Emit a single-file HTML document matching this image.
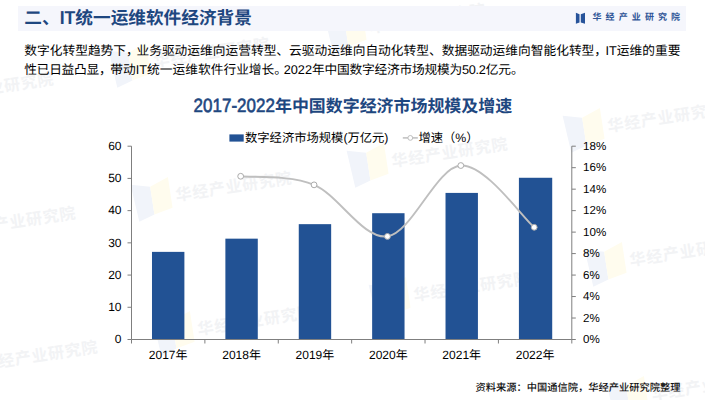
<!DOCTYPE html>
<html lang="zh-CN">
<head>
<meta charset="utf-8">
<title>IT统一运维软件经济背景</title>
<style>

html,body{margin:0;padding:0}
body{width:705px;height:400px;position:relative;overflow:hidden;background:#fff;
 font-family:"Liberation Sans","Noto Sans CJK SC",sans-serif;text-rendering:geometricPrecision;}
.t{position:absolute;white-space:nowrap;line-height:1em;height:1em;color:var(--c);}
.band{position:absolute;left:18px;top:6px;width:668px;height:25px;background:#f5f6fc}
#chart{position:absolute;left:0;top:0}
.wm{position:absolute;white-space:nowrap;line-height:1em;height:1em;transform-origin:0 50%;
 transform:rotate(-8.7deg);font-weight:bold;--c:#f2f3f5;color:var(--c)}

</style>
</head>
<body>
<div class="wm" style="left:-62.0px;top:89.5px;font-size:16px"><svg viewBox="0 0 40 42" style="position:absolute;left:-44px;top:-14px;width:40px;height:42px"><path d="M1 3 L20 8 L20 36 L4 41 Z" fill="#f1f4fa"/><path d="M20 8 L39 1 L39 32 L20 36 Z" fill="#fffcee"/></svg><span style="letter-spacing:0.8px">华经产业研究院</span></div>
<div class="wm" style="left:-40.0px;top:223.5px;font-size:16px"><svg viewBox="0 0 40 42" style="position:absolute;left:-44px;top:-14px;width:40px;height:42px"><path d="M1 3 L20 8 L20 36 L4 41 Z" fill="#f1f4fa"/><path d="M20 8 L39 1 L39 32 L20 36 Z" fill="#fffcee"/></svg><span style="letter-spacing:0.8px">华经产业研究院</span></div>
<div class="wm" style="left:-18.0px;top:357.5px;font-size:16px"><svg viewBox="0 0 40 42" style="position:absolute;left:-44px;top:-14px;width:40px;height:42px"><path d="M1 3 L20 8 L20 36 L4 41 Z" fill="#f1f4fa"/><path d="M20 8 L39 1 L39 32 L20 36 Z" fill="#fffcee"/></svg><span style="letter-spacing:0.8px">华经产业研究院</span></div>
<div class="wm" style="left:154.0px;top:55.0px;font-size:16px"><svg viewBox="0 0 40 42" style="position:absolute;left:-44px;top:-14px;width:40px;height:42px"><path d="M1 3 L20 8 L20 36 L4 41 Z" fill="#f1f4fa"/><path d="M20 8 L39 1 L39 32 L20 36 Z" fill="#fffcee"/></svg><span style="letter-spacing:0.8px">华经产业研究院</span></div>
<div class="wm" style="left:176.0px;top:189.0px;font-size:16px"><svg viewBox="0 0 40 42" style="position:absolute;left:-44px;top:-14px;width:40px;height:42px"><path d="M1 3 L20 8 L20 36 L4 41 Z" fill="#f1f4fa"/><path d="M20 8 L39 1 L39 32 L20 36 Z" fill="#fffcee"/></svg><span style="letter-spacing:0.8px">华经产业研究院</span></div>
<div class="wm" style="left:198.0px;top:323.0px;font-size:16px"><svg viewBox="0 0 40 42" style="position:absolute;left:-44px;top:-14px;width:40px;height:42px"><path d="M1 3 L20 8 L20 36 L4 41 Z" fill="#f1f4fa"/><path d="M20 8 L39 1 L39 32 L20 36 Z" fill="#fffcee"/></svg><span style="letter-spacing:0.8px">华经产业研究院</span></div>
<div class="wm" style="left:370.0px;top:20.5px;font-size:16px"><svg viewBox="0 0 40 42" style="position:absolute;left:-44px;top:-14px;width:40px;height:42px"><path d="M1 3 L20 8 L20 36 L4 41 Z" fill="#f1f4fa"/><path d="M20 8 L39 1 L39 32 L20 36 Z" fill="#fffcee"/></svg><span style="letter-spacing:0.8px">华经产业研究院</span></div>
<div class="wm" style="left:392.0px;top:154.5px;font-size:16px"><svg viewBox="0 0 40 42" style="position:absolute;left:-44px;top:-14px;width:40px;height:42px"><path d="M1 3 L20 8 L20 36 L4 41 Z" fill="#f1f4fa"/><path d="M20 8 L39 1 L39 32 L20 36 Z" fill="#fffcee"/></svg><span style="letter-spacing:0.8px">华经产业研究院</span></div>
<div class="wm" style="left:414.0px;top:288.5px;font-size:16px"><svg viewBox="0 0 40 42" style="position:absolute;left:-44px;top:-14px;width:40px;height:42px"><path d="M1 3 L20 8 L20 36 L4 41 Z" fill="#f1f4fa"/><path d="M20 8 L39 1 L39 32 L20 36 Z" fill="#fffcee"/></svg><span style="letter-spacing:0.8px">华经产业研究院</span></div>
<div class="wm" style="left:608.0px;top:120.0px;font-size:16px"><svg viewBox="0 0 40 42" style="position:absolute;left:-44px;top:-14px;width:40px;height:42px"><path d="M1 3 L20 8 L20 36 L4 41 Z" fill="#f1f4fa"/><path d="M20 8 L39 1 L39 32 L20 36 Z" fill="#fffcee"/></svg><span style="letter-spacing:0.8px">华经产业研究院</span></div>
<div class="wm" style="left:630.0px;top:254.0px;font-size:16px"><svg viewBox="0 0 40 42" style="position:absolute;left:-44px;top:-14px;width:40px;height:42px"><path d="M1 3 L20 8 L20 36 L4 41 Z" fill="#f1f4fa"/><path d="M20 8 L39 1 L39 32 L20 36 Z" fill="#fffcee"/></svg><span style="letter-spacing:0.8px">华经产业研究院</span></div>
<div class="wm" style="left:652.0px;top:388.0px;font-size:16px"><svg viewBox="0 0 40 42" style="position:absolute;left:-44px;top:-14px;width:40px;height:42px"><path d="M1 3 L20 8 L20 36 L4 41 Z" fill="#f1f4fa"/><path d="M20 8 L39 1 L39 32 L20 36 Z" fill="#fffcee"/></svg><span style="letter-spacing:0.8px">华经产业研究院</span></div>
<div class="band"></div>
<div class="t" style="left:24.3px;top:9.9px;font-size:17.66px;font-weight:bold;--c:#1e4780;">二、<span style="display:inline-block;transform:scaleY(1.06);transform-origin:0 84.6%">IT</span>统一运维软件经济背景</div>
<svg style="position:absolute;left:575px;top:12px" width="11" height="12" viewBox="0 0 11 12"><path d="M0.9 0.8 L4.5 2.2 L4.5 10.4 L0.9 11.8 Z" fill="#27539a"/><path d="M5.8 2.2 L10 0.8 L10 11.8 L5.8 10.4 Z" fill="#27539a"/></svg>
<div class="t" style="left:592.5px;top:12.85px;font-size:9px;font-weight:bold;--c:#2f5597;"><span style="letter-spacing:4.1px">华经产业研究院</span></div>
<div class="t" style="left:24.3px;top:44.7px;font-size:12.735px;--c:#000;">数字化转型趋势下<span style="letter-spacing:-2.3px">，</span>业务驱动运维向运营转型、云驱动运维向自动化转型、数据驱动运维向智能化转型<span style="letter-spacing:-1.6px">，</span>IT运维的重要</div>
<div class="t" style="left:24.3px;top:64.4px;font-size:12.735px;--c:#000;"><span style="letter-spacing:-0.28px">性已日益凸显</span><span style="letter-spacing:-1.3px">，</span>带动IT统一运维软件行业增长<span style="letter-spacing:-3.3px">。</span>2022<span style="letter-spacing:-0.23px">年中国数字经济市场规模为</span><span style="letter-spacing:-0.25px">50.2</span>亿元。</div>
<div class="t" style="left:193.5px;top:99.0px;font-size:16.95px;font-weight:bold;--c:#1e4780;"><span style="display:inline-block;transform:scaleY(1.13);transform-origin:0 84.6%;letter-spacing:0.05px;font-weight:normal;-webkit-text-stroke:0.55px var(--c)">2017-2022</span>年中国数字经济市场规模及增速</div>
<svg id="chart" width="705" height="400" viewBox="0 0 705 400">
<rect x="151.99" y="251.87" width="32.4" height="87.63" fill="#225294"/>
<rect x="225.38" y="238.66" width="32.4" height="100.84" fill="#225294"/>
<rect x="298.76" y="224.16" width="32.4" height="115.34" fill="#225294"/>
<rect x="372.14" y="213.21" width="32.4" height="126.29" fill="#225294"/>
<rect x="445.52" y="192.91" width="32.4" height="146.59" fill="#225294"/>
<rect x="518.91" y="177.77" width="33.3" height="161.73" fill="#225294"/>
<path d="M131.5 146.2 V339.5 M127.5 339.50 H131.5 M127.5 307.28 H131.5 M127.5 275.07 H131.5 M127.5 242.85 H131.5 M127.5 210.63 H131.5 M127.5 178.42 H131.5 M127.5 146.20 H131.5 M131.5 339.5 H571.8 M131.50 339.5 V343.5 M204.88 339.5 V343.5 M278.27 339.5 V343.5 M351.65 339.5 V343.5 M425.03 339.5 V343.5 M498.42 339.5 V343.5 M571.80 339.5 V343.5 M571.8 146.2 V339.5 M571.8 339.50 H575.8 M571.8 318.02 H575.8 M571.8 296.54 H575.8 M571.8 275.07 H575.8 M571.8 253.59 H575.8 M571.8 232.11 H575.8 M571.8 210.63 H575.8 M571.8 189.16 H575.8 M571.8 167.68 H575.8 M571.8 146.20 H575.8" stroke="#7f7f7f" stroke-width="1" fill="none"/>
<path d="M240.67 176.27 C252.91 177.70 289.60 174.84 314.06 184.86 C338.52 194.88 362.98 239.63 387.44 236.41 C411.90 233.19 436.36 167.05 460.82 165.53 C485.29 164.01 521.98 216.99 534.21 227.28" stroke="#bfbfbf" stroke-width="1.9" fill="none"/>
<circle cx="240.67" cy="176.27" r="2.9" fill="#fff" stroke="#ababab" stroke-width="1"/>
<circle cx="314.06" cy="184.86" r="2.9" fill="#fff" stroke="#ababab" stroke-width="1"/>
<circle cx="387.44" cy="236.41" r="2.9" fill="#fff" stroke="#ababab" stroke-width="1"/>
<circle cx="460.82" cy="165.53" r="2.9" fill="#fff" stroke="#ababab" stroke-width="1"/>
<circle cx="534.21" cy="227.28" r="2.9" fill="#fff" stroke="#ababab" stroke-width="1"/>
<rect x="229.4" y="134.4" width="14.3" height="7.2" fill="#225294"/>
<path d="M402.8 137.9 H417.8" stroke="#bfbfbf" stroke-width="1.5"/>
<circle cx="410.3" cy="137.9" r="2.4" fill="#fff" stroke="#bfbfbf" stroke-width="1"/>
</svg>
<div class="t" style="left:245px;top:131.5px;font-size:12.3px;--c:#000;">数字经济市场规模(万亿元)</div>
<div class="t" style="left:418.4px;top:131.5px;font-size:12.3px;--c:#000;">增速（%）</div>
<div class="t" style="left:91.5px;top:333.3px;font-size:12px;--c:#000;width:30px;text-align:right;">0</div>
<div class="t" style="left:91.5px;top:301.0833333333333px;font-size:12px;--c:#000;width:30px;text-align:right;">10</div>
<div class="t" style="left:91.5px;top:268.8666666666667px;font-size:12px;--c:#000;width:30px;text-align:right;">20</div>
<div class="t" style="left:91.5px;top:236.64999999999998px;font-size:12px;--c:#000;width:30px;text-align:right;">30</div>
<div class="t" style="left:91.5px;top:204.43333333333334px;font-size:12px;--c:#000;width:30px;text-align:right;">40</div>
<div class="t" style="left:91.5px;top:172.21666666666667px;font-size:12px;--c:#000;width:30px;text-align:right;">50</div>
<div class="t" style="left:91.5px;top:139.99999999999997px;font-size:12px;--c:#000;width:30px;text-align:right;">60</div>
<div class="t" style="left:583.0999999999999px;top:334.0px;font-size:11.6px;--c:#000;">0%</div>
<div class="t" style="left:583.0999999999999px;top:312.52222222222224px;font-size:11.6px;--c:#000;">2%</div>
<div class="t" style="left:583.0999999999999px;top:291.0444444444444px;font-size:11.6px;--c:#000;">4%</div>
<div class="t" style="left:583.0999999999999px;top:269.56666666666666px;font-size:11.6px;--c:#000;">6%</div>
<div class="t" style="left:583.0999999999999px;top:248.0888888888889px;font-size:11.6px;--c:#000;">8%</div>
<div class="t" style="left:583.0999999999999px;top:226.61111111111111px;font-size:11.6px;--c:#000;">10%</div>
<div class="t" style="left:583.0999999999999px;top:205.13333333333333px;font-size:11.6px;--c:#000;">12%</div>
<div class="t" style="left:583.0999999999999px;top:183.65555555555554px;font-size:11.6px;--c:#000;">14%</div>
<div class="t" style="left:583.0999999999999px;top:162.17777777777778px;font-size:11.6px;--c:#000;">16%</div>
<div class="t" style="left:583.0999999999999px;top:140.7px;font-size:11.6px;--c:#000;">18%</div>
<div class="t" style="left:128.19166666666666px;top:349.0px;font-size:12px;--c:#000;width:80px;text-align:center;">2017年</div>
<div class="t" style="left:201.575px;top:349.0px;font-size:12px;--c:#000;width:80px;text-align:center;">2018年</div>
<div class="t" style="left:274.9583333333333px;top:349.0px;font-size:12px;--c:#000;width:80px;text-align:center;">2019年</div>
<div class="t" style="left:348.34166666666664px;top:349.0px;font-size:12px;--c:#000;width:80px;text-align:center;">2020年</div>
<div class="t" style="left:421.72499999999997px;top:349.0px;font-size:12px;--c:#000;width:80px;text-align:center;">2021年</div>
<div class="t" style="left:495.10833333333335px;top:349.0px;font-size:12px;--c:#000;width:80px;text-align:center;">2022年</div>
<div class="t" style="left:475.6px;top:383.5px;font-size:10.25px;font-weight:500;--c:#111;">资料来源：中国通信院，华经产业研究院整理</div>
</body>
</html>
